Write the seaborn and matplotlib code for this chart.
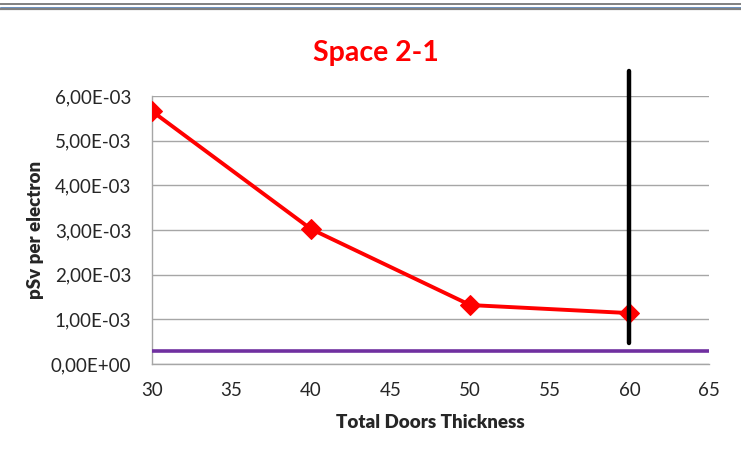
import matplotlib
matplotlib.use("Agg")
import matplotlib.pyplot as plt
import matplotlib.ticker as mticker
from matplotlib.lines import Line2D
import seaborn as sns
import pandas as pd

# data
thickness = [30, 40, 50, 60]
dose = [5.66e-3, 3.02e-3, 1.32e-3, 1.14e-3]
limit_dose = 0.29e-3
marker_x = 60
marker_span = [0.47e-3, 6.55e-3]
x_ticks = [30, 35, 40, 45, 50, 55, 60, 65]
y_ticks = [0, 1e-3, 2e-3, 3e-3, 4e-3, 5e-3, 6e-3]

sns.set_style("white")
plt.rcParams['font.family'] = ['Lato', 'DejaVu Sans']

df = pd.DataFrame({'thickness': thickness, 'dose': dose})

fig = plt.figure(figsize=(7.41, 4.58), dpi=100)
ax = fig.add_axes([0.2051, 0.2052, 0.9568 - 0.2051, 0.7904 - 0.2052])

ax.axhline(limit_dose, color='#7030A0', lw=2.6, zorder=3)
sns.lineplot(data=df, x='thickness', y='dose', ax=ax, color='#FF0000',
             lw=2.8, marker='D', markersize=10, markeredgecolor='#FF0000',
             zorder=4)
ax.plot([marker_x, marker_x], marker_span, color='black', lw=3.2,
        clip_on=False, zorder=5)

ax.set_xlim(30, 65)
ax.set_ylim(0, 6e-3)
ax.set_xticks(x_ticks)
ax.set_yticks(y_ticks)
ax.yaxis.set_major_formatter(mticker.FuncFormatter(lambda v, p: f"{v:.2E}".replace('.', ',')))
ax.grid(axis='y', color='#A6A6A6', lw=1)
ax.set_axisbelow(True)
for s in ['top', 'right']:
    ax.spines[s].set_visible(False)
for s in ['left', 'bottom']:
    ax.spines[s].set_color('#A6A6A6')
    ax.spines[s].set_linewidth(1)
ax.tick_params(axis='both', length=0, labelsize=13.5, labelcolor='#262626')
ax.tick_params(axis='y', pad=15)
ax.tick_params(axis='x', pad=13)

ax.set_xlabel('Total Doors Thickness', fontsize=13.5, fontweight='heavy')
ax.set_ylabel('pSv per electron', fontsize=13.5, fontweight='heavy')
ax.xaxis.set_label_coords(0.5, -0.22)
ax.yaxis.set_label_coords(-0.21, 0.5)
ax.xaxis.label.set_va('center')
ax.yaxis.label.set_va('center')
fig.text(0.5067, 0.885, 'Space 2-1', color='#FF0000', fontsize=20.5,
         fontweight='bold', ha='center', va='center')

# frame lines at the top of the image
fig.add_artist(Line2D([0, 1], [1 - 4 / 458, 1 - 4 / 458], color='#808080', lw=1.4))
fig.add_artist(Line2D([0, 1], [1 - 6.8 / 458, 1 - 6.8 / 458], color='#4F81BD', lw=0.6))
fig.add_artist(Line2D([0, 1], [1 - 8.5 / 458, 1 - 8.5 / 458], color='#808080', lw=1.6))

fig.savefig('out.png', dpi=100)
